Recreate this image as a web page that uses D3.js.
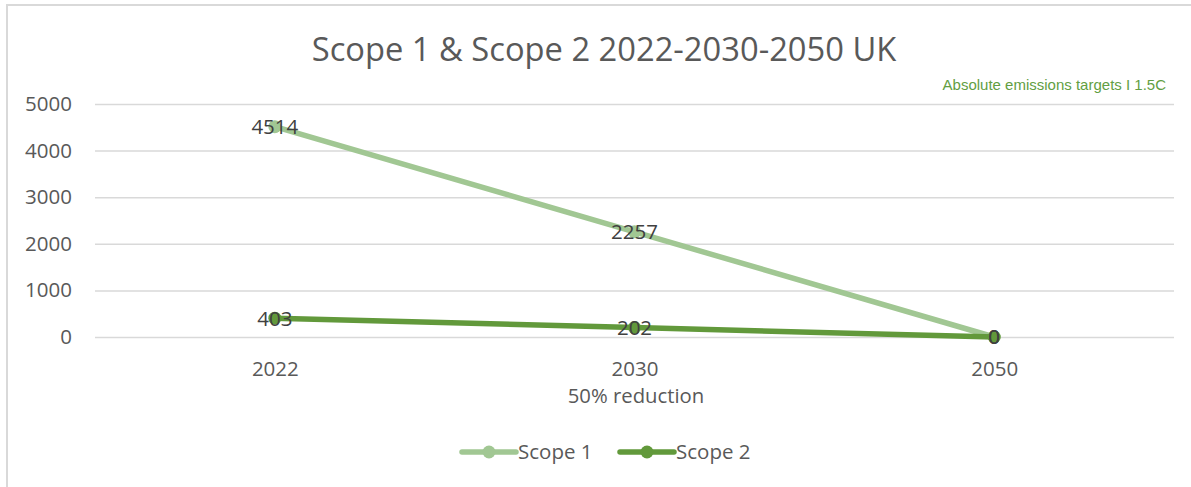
<!DOCTYPE html>
<html>
<head>
<meta charset="utf-8">
<script src="https://cdn.jsdelivr.net/npm/d3@7"></script>
<style>
  body { margin: 0; background: #fff; }
  text { font-family: "Open Sans", sans-serif; }
</style>
</head>
<body>
<div id="chart"></div>
<script>
'use strict'

// data
var years = ['2022', '2030', '2050'];
var scope1 = [4514, 2257, 0];
var scope2 = [403, 202, 0];
var yTicks = [0, 1000, 2000, 3000, 4000, 5000];
var seriesNames = ['Scope 1', 'Scope 2'];
var seriesColors = ['#a1c793', '#62993b'];

const W = 1191, H = 487;
const margin = { top: 104, right: 17, bottom: 150, left: 95 };
const width = W - margin.left - margin.right;
const height = H - margin.top - margin.bottom;
const font = '"Open Sans", sans-serif';

var svg = d3.select('#chart').append('svg')
  .attr('width', W)
  .attr('height', H);

// outer border
svg.append('rect')
  .attr('x', 7).attr('y', 5)
  .attr('width', W).attr('height', H)
  .attr('fill', 'none')
  .attr('stroke', '#d9d9d9')
  .attr('stroke-width', 2);

var xScale = d3.scalePoint()
  .domain(years)
  .range([0, width])
  .padding(0.5);

var yScale = d3.scaleLinear()
  .domain([0, 5000])
  .range([height, 0]);

var g = svg.append('g')
  .attr('transform', 'translate(' + margin.left + ',' + margin.top + ')');

// gridlines + y labels
var yAxis = d3.axisLeft(yScale)
  .tickValues(yTicks)
  .tickSize(-width)
  .tickPadding(23)
  .tickFormat(d3.format('d'));
var yGuide = g.append('g').call(yAxis);
yGuide.select('.domain').remove();
yGuide.selectAll('line').style('stroke', '#d9d9d9').style('stroke-width', 1.5);
yGuide.selectAll('text')
  .style('font-size', '20.5px')
  .style('fill', '#595959')
  .style('font-family', font);

var xAxis = d3.axisBottom(xScale).tickSize(0).tickPadding(24);
var xGuide = g.append('g')
  .attr('transform', 'translate(0,' + height + ')')
  .call(xAxis);
xGuide.select('.domain').remove();
xGuide.selectAll('text')
  .style('font-size', '20.5px')
  .style('fill', '#595959')
  .style('font-family', font);

// axis title
svg.append('text')
  .attr('x', 636)
  .attr('y', 403)
  .attr('text-anchor', 'middle')
  .style('font-size', '20.3px')
  .style('fill', '#595959')
  .text('50% reduction');

// title
svg.append('text')
  .attr('x', 604)
  .attr('y', 61)
  .attr('text-anchor', 'middle')
  .style('font-size', '32.7px')
  .style('fill', '#595959')
  .text('Scope 1 & Scope 2 2022-2030-2050 UK');

svg.append('text')
  .attr('x', 1166)
  .attr('y', 90)
  .attr('text-anchor', 'end')
  .style('font-family', '"Liberation Sans Narrow", "Liberation Sans", sans-serif')
  .style('font-size', '15px')
  .style('fill', '#629e42')
  .text('Absolute emissions targets I 1.5C');

var series = [scope1, scope2];
var line = d3.line()
  .x(function(d, i) { return xScale(years[i]); })
  .y(function(d) { return yScale(d); });

series.forEach(function(vals, s) {
  g.append('path')
    .datum(vals)
    .attr('d', line)
    .attr('fill', 'none')
    .attr('stroke', seriesColors[s])
    .attr('stroke-width', 5.5)
    .attr('stroke-linecap', 'round');
  g.selectAll('.m' + s)
    .data(vals)
    .enter().append('circle')
    .attr('cx', function(d, i) { return xScale(years[i]); })
    .attr('cy', function(d) { return yScale(d); })
    .attr('r', 6.5)
    .attr('fill', seriesColors[s]);
});

series.forEach(function(vals, s) {
  g.selectAll('.lbl' + s)
    .data(vals)
    .enter().append('text')
    .attr('x', function(d, i) { return xScale(years[i]); })
    .attr('y', function(d) { return yScale(d); })
    .attr('dy', '0.36em')
    .attr('text-anchor', 'middle')
    .style('font-size', '20.5px')
    .style('fill', '#404040')
    .text(function(d) { return d; });
});

// legend
var legend = svg.append('g').attr('transform', 'translate(462,452)');
var legX = [0, 158];
seriesNames.forEach(function(name, s) {
  var lg = legend.append('g').attr('transform', 'translate(' + legX[s] + ',0)');
  lg.append('line')
    .attr('x1', 0).attr('x2', 54)
    .attr('stroke', seriesColors[s])
    .attr('stroke-width', 5.5)
    .attr('stroke-linecap', 'round');
  lg.append('circle')
    .attr('cx', 27).attr('r', 6.5)
    .attr('fill', seriesColors[s]);
  lg.append('text')
    .attr('x', 56)
    .attr('dy', '0.36em')
    .style('font-size', '20.5px')
    .style('fill', '#595959')
    .text(name);
});
</script>
</body>
</html>
